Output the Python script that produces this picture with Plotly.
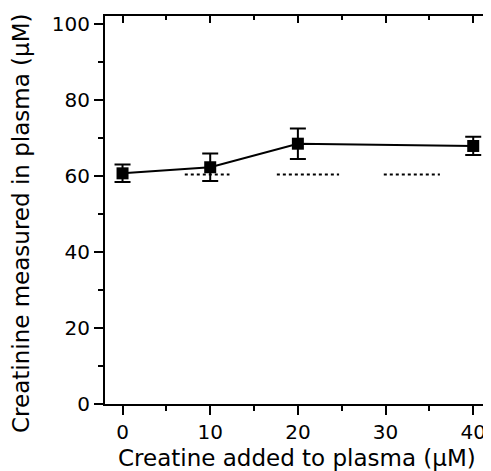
import plotly.graph_objects as go

# Data
creatine_added = [0, 10, 20, 40]
creatinine_measured = [60.7, 62.3, 68.5, 67.9]
creatinine_err = [2.3, 3.6, 4.0, 2.4]

# dotted reference segments (x start, x end, y)
ref_x = [[7.1, 12.2], [17.6, 24.7], [29.8, 36.2]]
ref_y = [[60.4, 60.4], [60.4, 60.4], [60.4, 60.4]]

x_ticks = [0, 10, 20, 30, 40]
y_ticks = [0, 20, 40, 60, 80, 100]

FONT = "DejaVu Sans"
XR = [-2.0, 41.8]
YR = [0, 102.1]

fig = go.Figure()
for xs, ys in zip(ref_x, ref_y):
    fig.add_trace(go.Scatter(x=xs, y=ys, mode="lines",
                             line=dict(color="black", width=2, dash="dot"),
                             showlegend=False, hoverinfo="skip"))

fig.add_trace(go.Scatter(
    x=creatine_added, y=creatinine_measured, mode="lines+markers",
    line=dict(color="black", width=2),
    marker=dict(symbol="square", size=12, color="black"),
    error_y=dict(type="data", array=creatinine_err, visible=True,
                 color="black", thickness=2, width=8),
    showlegend=False))

# dummy trace for mirrored axes
fig.add_trace(go.Scatter(x=[None], y=[None], xaxis="x2", yaxis="y2", showlegend=False))

axis_common = dict(showgrid=False, zeroline=False, showline=True, linecolor="black",
                   linewidth=2, tickcolor="black", tickwidth=2)

fig.update_layout(
    width=483, height=463,
    margin=dict(l=97, r=2, t=8, b=67, autoexpand=False),
    plot_bgcolor="white", paper_bgcolor="white",
    font=dict(family=FONT, size=20, color="black"),
    xaxis=dict(range=XR, tickvals=x_ticks, ticks="outside", ticklen=9,
               tickfont=dict(size=20),
               minor=dict(dtick=5, tick0=0, ticks="outside", ticklen=5,
                          tickwidth=2, tickcolor="black"),
               **axis_common),
    yaxis=dict(range=YR, tickvals=y_ticks, ticks="outside", ticklen=9,
               tickfont=dict(size=20),
               minor=dict(dtick=10, tick0=0, ticks="outside", ticklen=5,
                          tickwidth=2, tickcolor="black"),
               **axis_common),
    xaxis2=dict(range=XR, overlaying="x", side="top", tickvals=x_ticks,
                ticks="inside", ticklen=7, showticklabels=False, anchor="y",
                minor=dict(dtick=5, tick0=0, ticks="inside", ticklen=4,
                           tickwidth=2, tickcolor="black"),
                **axis_common),
    yaxis2=dict(range=YR, overlaying="y", side="right", tickvals=y_ticks,
                ticks="inside", ticklen=6, showticklabels=False, anchor="x",
                minor=dict(dtick=10, tick0=0, ticks="inside", ticklen=3,
                           tickwidth=2, tickcolor="black"),
                **axis_common),
    annotations=[
        dict(text="Creatine added to plasma (µM)", xref="paper", yref="paper",
             x=0.5, y=0, yshift=-54, xanchor="center", yanchor="middle",
             showarrow=False, font=dict(size=23)),
        dict(text="Creatinine measured in plasma (µM)", xref="paper", yref="paper",
             x=0, y=0.5, xshift=-84, yshift=-14, xanchor="center", yanchor="middle",
             textangle=-90, showarrow=False, font=dict(size=23)),
    ],
)

fig.write_html("out.html")
